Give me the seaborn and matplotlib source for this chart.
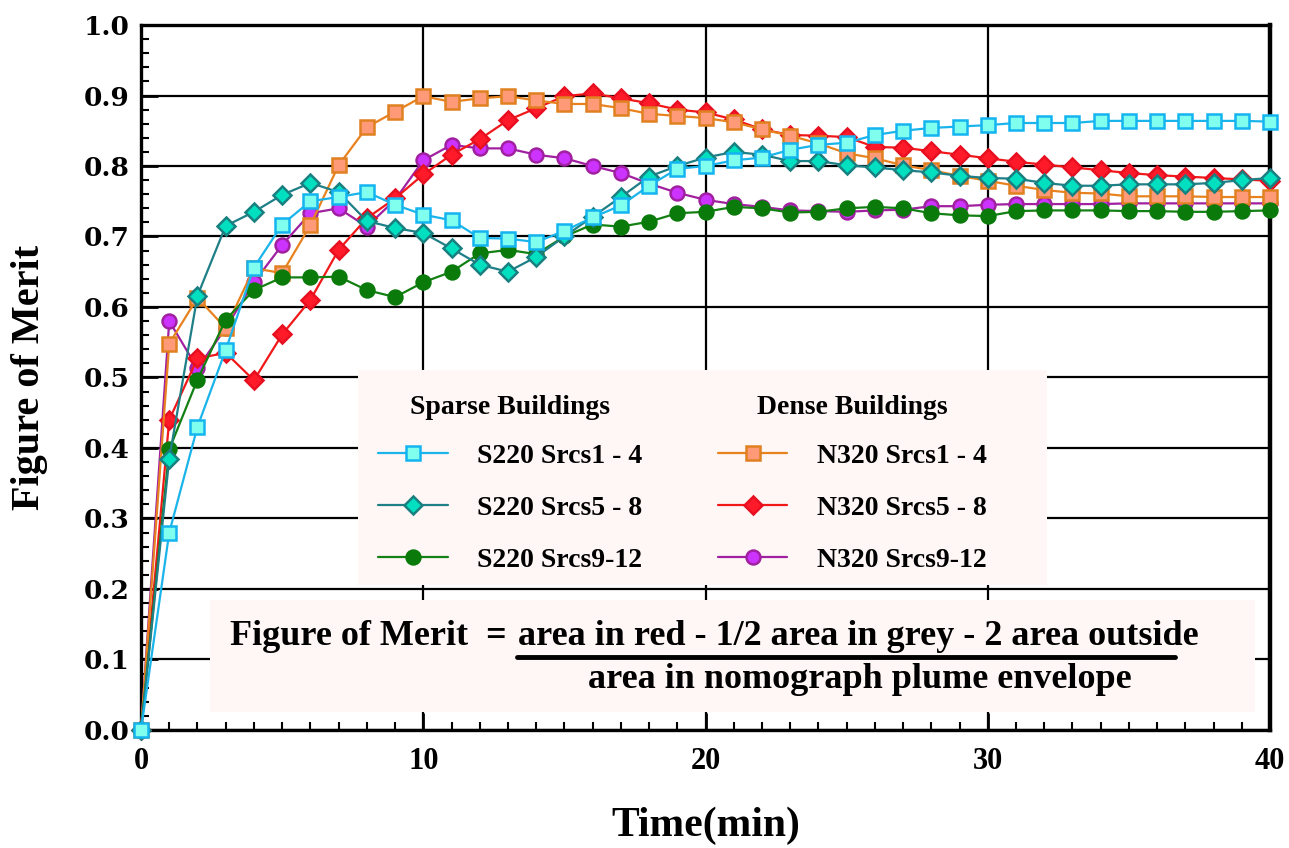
import matplotlib
matplotlib.use("Agg")
import matplotlib.pyplot as plt
from matplotlib.patches import Rectangle
from matplotlib.lines import Line2D
from matplotlib.ticker import MultipleLocator
import seaborn as sns

# ---- data ----
time_min = list(range(41))

s220_srcs1_4 = [0.0, 0.28, 0.43, 0.539, 0.656, 0.717, 0.75, 0.756, 0.763, 0.745, 0.731,
                0.723, 0.698, 0.697, 0.692, 0.708, 0.727, 0.744, 0.772, 0.796, 0.80,
                0.808, 0.812, 0.823, 0.830, 0.833, 0.844, 0.850, 0.854, 0.856, 0.858,
                0.861, 0.861, 0.861, 0.864, 0.864, 0.864, 0.864, 0.864, 0.864, 0.863]
s220_srcs5_8 = [0.0, 0.385, 0.616, 0.715, 0.735, 0.759, 0.776, 0.763, 0.722, 0.712, 0.705,
                0.683, 0.66, 0.65, 0.671, 0.70, 0.728, 0.756, 0.785, 0.80, 0.812,
                0.82, 0.816, 0.807, 0.807, 0.801, 0.798, 0.794, 0.791, 0.786, 0.783,
                0.782, 0.776, 0.772, 0.772, 0.774, 0.774, 0.774, 0.776, 0.780, 0.783]
s220_srcs9_12 = [0.0, 0.398, 0.497, 0.582, 0.624, 0.642, 0.642, 0.643, 0.624, 0.614, 0.635,
                 0.65, 0.676, 0.681, 0.675, 0.70, 0.717, 0.714, 0.721, 0.733, 0.735,
                 0.742, 0.740, 0.734, 0.735, 0.740, 0.742, 0.740, 0.733, 0.730, 0.729,
                 0.736, 0.737, 0.737, 0.737, 0.736, 0.736, 0.735, 0.735, 0.736, 0.737]
n320_srcs1_4 = [0.0, 0.548, 0.613, 0.57, 0.655, 0.648, 0.716, 0.801, 0.855, 0.877, 0.899,
                0.891, 0.896, 0.899, 0.893, 0.888, 0.888, 0.882, 0.874, 0.871, 0.868,
                0.862, 0.852, 0.843, 0.832, 0.818, 0.811, 0.801, 0.794, 0.786, 0.779,
                0.772, 0.766, 0.762, 0.761, 0.757, 0.757, 0.757, 0.756, 0.756, 0.756]
n320_srcs5_8 = [0.0, 0.44, 0.527, 0.535, 0.496, 0.561, 0.61, 0.681, 0.726, 0.754, 0.788,
                0.816, 0.838, 0.865, 0.882, 0.899, 0.903, 0.896, 0.889, 0.88, 0.876,
                0.866, 0.852, 0.844, 0.843, 0.841, 0.827, 0.826, 0.821, 0.816, 0.811,
                0.806, 0.802, 0.798, 0.794, 0.790, 0.787, 0.785, 0.783, 0.781, 0.779]
n320_srcs9_12 = [0.0, 0.58, 0.513, 0.57, 0.635, 0.688, 0.733, 0.74, 0.714, 0.752, 0.808,
                 0.83, 0.825, 0.825, 0.816, 0.811, 0.80, 0.79, 0.775, 0.762, 0.752,
                 0.746, 0.742, 0.737, 0.736, 0.735, 0.737, 0.738, 0.743, 0.743, 0.745,
                 0.746, 0.746, 0.746, 0.746, 0.747, 0.747, 0.747, 0.747, 0.747, 0.747]

sparse_labels = ["S220 Srcs1 - 4", "S220 Srcs5 - 8", "S220 Srcs9-12"]
dense_labels = ["N320 Srcs1 - 4", "N320 Srcs5 - 8", "N320 Srcs9-12"]
x_ticks = [0, 10, 20, 30, 40]
y_ticks = [0.0, 0.1, 0.2, 0.3, 0.4, 0.5, 0.6, 0.7, 0.8, 0.9, 1.0]

# label -> (values, marker, size, line colour, face colour, edge colour)
styles = {
    "N320 Srcs9-12": (n320_srcs9_12, "o", 10, "#A020A0", "#CC33FF", "#A020A0"),
    "N320 Srcs5 - 8": (n320_srcs5_8, "D", 9, "#F01818", "#FF1A2A", "#E81020"),
    "N320 Srcs1 - 4": (n320_srcs1_4, "s", 10, "#E8821E", "#FF9A78", "#E08020"),
    "S220 Srcs9-12": (s220_srcs9_12, "o", 10, "#128012", "#0A7A0A", "#0A7A0A"),
    "S220 Srcs5 - 8": (s220_srcs5_8, "D", 9, "#1E7F86", "#00E0C0", "#1A7F80"),
    "S220 Srcs1 - 4": (s220_srcs1_4, "s", 10, "#1AB4EB", "#80FFEE", "#14B4F0"),
}

sns.set_theme(style="white")
plt.rcParams["font.family"] = ["Liberation Serif", "DejaVu Serif"]
plt.rcParams["font.weight"] = "bold"
plt.rcParams["axes.labelweight"] = "bold"
plt.rcParams["text.color"] = "black"
plt.rcParams["axes.labelcolor"] = "black"
plt.rcParams["xtick.color"] = "black"
plt.rcParams["ytick.color"] = "black"

fig = plt.figure(figsize=(12.89, 8.48), dpi=100)
ax = fig.add_axes([0.1094, 0.1392, 0.8759, 0.8313])

handles = {}
for z, (label, (vals, mk, ms, lc, fc, ec)) in enumerate(styles.items()):
    sns.lineplot(x=time_min, y=vals, ax=ax, color=lc, linewidth=1.6,
                 marker=mk, markersize=ms, markerfacecolor=fc,
                 markeredgecolor=ec, markeredgewidth=1.8,
                 legend=False, clip_on=False, zorder=10 + z)
    handles[label] = ax.get_lines()[-1]

ax.set_xlim(0, 40)
ax.set_ylim(0, 1)
ax.set_xticks(x_ticks, labels=[str(t) for t in x_ticks])
ax.set_yticks(y_ticks, labels=[f"{t:.1f}" for t in y_ticks])
ax.xaxis.set_minor_locator(MultipleLocator(1))
ax.yaxis.set_minor_locator(MultipleLocator(0.02))
ax.tick_params(which="both", direction="in", top=False, right=False,
               bottom=True, left=True, colors="black")
ax.tick_params(which="major", length=12, width=2)
ax.tick_params(which="minor", length=6, width=1.5)
ax.tick_params(axis="x", labelsize=22, pad=12)
ax.tick_params(axis="y", labelsize=19, pad=8)
for lab in ax.get_yticklabels():
    lab.set_fontfamily("DejaVu Serif")
    lab.set_fontweight("bold")
for lab in ax.get_xticklabels():
    lab.set_fontweight("bold")

ax.grid(True, which="major", color="black", linewidth=1.6)
ax.set_axisbelow(True)
for side, sp in ax.spines.items():
    sp.set_color("black")
    sp.set_linewidth(3.2 if side == "right" else 2.4)

ax.set_xlabel("Time(min)", fontsize=30, fontweight="bold", labelpad=22)
ax.set_ylabel("Figure of Merit", fontsize=29, fontweight="bold", labelpad=26)

# legend panel
ax.add_patch(Rectangle((0.192, 0.2057), 0.6105, 0.305, transform=ax.transAxes,
                       facecolor="#FFF6F6", edgecolor="none", zorder=3))
font = dict(family="Liberation Serif", weight="bold", size=20)
leg_kw = dict(loc="upper left", frameon=False, prop=font,
              title_fontproperties=font, handlelength=2.5,
              handletextpad=1.05, labelspacing=0.95, borderpad=0,
              borderaxespad=0)
leg1 = ax.legend([handles[l] for l in sparse_labels], sparse_labels,
                 title="Sparse Buildings", bbox_to_anchor=(0.21, 0.475), **leg_kw)
ax.add_artist(leg1)
leg2 = ax.legend([handles[l] for l in dense_labels], dense_labels,
                 title="Dense Buildings", bbox_to_anchor=(0.511, 0.475), **leg_kw)
for lg in (leg1, leg2):
    lg.set_zorder(20)
    lg._legend_box.sep = 17

# formula panel
ax.add_patch(Rectangle((0.061, 0.0255), 0.926, 0.1585, transform=ax.transAxes,
                       facecolor="#FFF6F6", edgecolor="none", zorder=3))
ax.text(0.079, 0.133, "Figure of Merit  =", transform=ax.transAxes,
        ha="left", va="center", fontsize=26, fontweight="bold", zorder=6)
ax.text(0.334, 0.133, "area in red - 1/2 area in grey - 2 area outside",
        transform=ax.transAxes, ha="left", va="center", fontsize=26,
        fontweight="bold", zorder=6)
ax.add_line(Line2D([0.333, 0.916], [0.1035, 0.1035], transform=ax.transAxes,
                   color="black", linewidth=3.5, zorder=6))
ax.text(0.637, 0.072, "area in nomograph plume envelope", transform=ax.transAxes,
        ha="center", va="center", fontsize=26, fontweight="bold", zorder=6)

fig.savefig("out.png", dpi=100)
plt.close(fig)
